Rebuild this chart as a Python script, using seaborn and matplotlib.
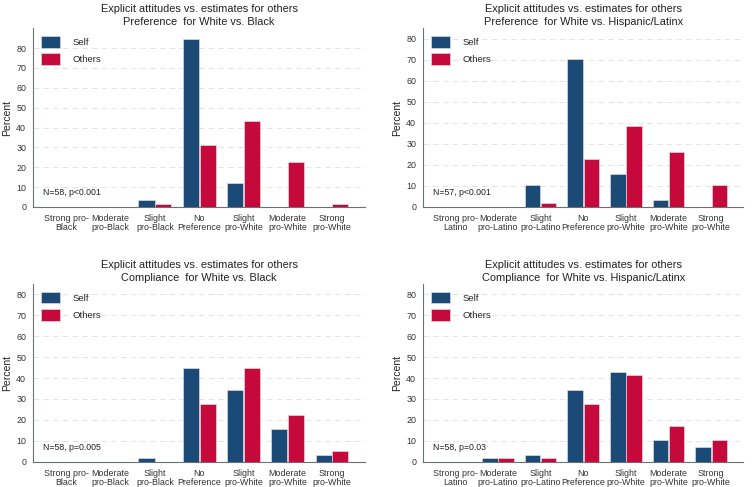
import numpy as np
import pandas as pd
import seaborn as sns
import matplotlib.pyplot as plt


################################################################################

CATS_BLACK = ["Strong pro-\nBlack", "Moderate\npro-Black", "Slight\npro-Black", "No\nPreference",
              "Slight\npro-White", "Moderate\npro-White", "Strong\npro-White"]
CATS_LATINO = ["Strong pro-\nLatino", "Moderate\npro-Latino", "Slight\npro-Latino", "No\nPreference",
               "Slight\npro-White", "Moderate\npro-White", "Strong\npro-White"]

# percent per category, Self / Others
PREF_BLACK_SELF = [0, 0, 3.4, 84.5, 12.1, 0, 0]
PREF_BLACK_OTHERS = [0, 0, 1.7, 31.0, 43.1, 22.4, 1.7]
PREF_LATINO_SELF = [0, 0, 10.5, 70.2, 15.8, 3.5, 0]
PREF_LATINO_OTHERS = [0, 0, 1.75, 22.8, 38.6, 26.3, 10.5]
COMP_BLACK_SELF = [0, 0, 1.7, 44.8, 34.5, 15.5, 3.4]
COMP_BLACK_OTHERS = [0, 0, 0, 27.6, 44.8, 22.4, 5.2]
COMP_LATINO_SELF = [0, 1.7, 3.4, 34.5, 43.1, 10.3, 6.9]
COMP_LATINO_OTHERS = [0, 1.7, 1.7, 27.6, 41.4, 17.2, 10.3]

TITLES = ["Preference  for White vs. Black", "Preference  for White vs. Hispanic/Latinx",
          "Compliance  for White vs. Black", "Compliance  for White vs. Hispanic/Latinx"]
NOTES = ["N=58, p<0.001", "N=57, p<0.001", "N=58, p=0.005", "N=58, p=0.03"]

NAVY = "#1b4a77"
RED = "#c5093b"


def plotPanel(ax, cats, selfVals, otherVals, title, note, ytop):
  df = pd.DataFrame({
    "cat": cats * 2,
    "pct": selfVals + otherVals,
    "who": ["Self"] * len(cats) + ["Others"] * len(cats),
  })
  sns.barplot(data=df, x="cat", y="pct", hue="who", order=cats, hue_order=["Self", "Others"],
              palette=[NAVY, RED], saturation=1, width=0.76, gap=0.04, edgecolor="#f0e6ea",
              linewidth=0.4, ax=ax, zorder=3)
  ax.set_xlim(-0.75, 6.75)
  ax.set_ylim(0, ytop)
  ax.set_yticks(np.arange(0, 81, 10))
  ax.yaxis.grid(True, linestyle=(0, (6, 4)), color="#e3e6e9", linewidth=0.7, zorder=0)
  ax.xaxis.grid(False)
  ax.set_xlabel("")
  ax.set_ylabel("Percent", fontsize=7.5, color="#222222", labelpad=3)
  ax.set_title("Explicit attitudes vs. estimates for others\n" + title,
               fontsize=7.9, color="#222222", linespacing=1.45, pad=2)
  ax.tick_params(axis="x", length=0, labelsize=6.4, colors="#333333", pad=5)
  ax.tick_params(axis="y", length=3, width=0.6, labelsize=6.4, colors="#333333", pad=2)
  for lbl in ax.get_xticklabels():
    lbl.set_linespacing(1.0)
  for side in ["top", "right"]:
    ax.spines[side].set_visible(False)
  for side in ["left", "bottom"]:
    ax.spines[side].set_color("#6b7075")
    ax.spines[side].set_linewidth(0.8)
  ax.text(0.03, 0.065, note, transform=ax.transAxes, fontsize=6.3, color="#222222")
  ax.legend(loc="upper left", bbox_to_anchor=(0.0, 1.0), frameon=False, fontsize=6.8,
            handlelength=2.0, handleheight=1.5, handletextpad=1.3, labelspacing=0.6,
            borderaxespad=0.45)


def main():

  sns.set_style("white")
  plt.rcParams["font.family"] = ["Liberation Sans", "DejaVu Sans"]

  fig, axes = plt.subplots(2, 2, figsize=(7.53, 4.87), dpi=100)

  plotPanel(axes[0, 0], CATS_BLACK, PREF_BLACK_SELF, PREF_BLACK_OTHERS, TITLES[0], NOTES[0], 90)
  plotPanel(axes[0, 1], CATS_LATINO, PREF_LATINO_SELF, PREF_LATINO_OTHERS, TITLES[1], NOTES[1], 85)
  plotPanel(axes[1, 0], CATS_BLACK, COMP_BLACK_SELF, COMP_BLACK_OTHERS, TITLES[2], NOTES[2], 85)
  plotPanel(axes[1, 1], CATS_LATINO, COMP_LATINO_SELF, COMP_LATINO_OTHERS, TITLES[3], NOTES[3], 85)

  # axes placement matching the reference
  pos = [(0.044, 0.575, 0.441, 0.367), (0.562, 0.575, 0.425, 0.367),
         (0.044, 0.052, 0.441, 0.365), (0.562, 0.052, 0.425, 0.365)]
  for ax, p in zip(axes.flat, pos):
    ax.set_position(p)

  fig.savefig("out.png", dpi=100)

main()
